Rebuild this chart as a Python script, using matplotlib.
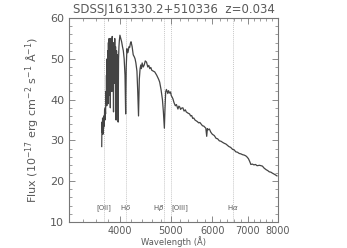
import matplotlib
matplotlib.use("Agg")
import matplotlib.pyplot as plt
from matplotlib.ticker import FixedLocator, FixedFormatter, MultipleLocator, NullFormatter

# rest-frame spectrum
wave = [3693, 3697, 3702, 3707, 3712, 3717, 3722, 3727, 3733, 3740,
        3746, 3750, 3756, 3762, 3767, 3771, 3776, 3781, 3786, 3791,
        3798, 3803, 3809, 3815, 3821, 3828, 3835, 3841, 3848, 3855,
        3861, 3867, 3873, 3880, 3889, 3896, 3903, 3910, 3917, 3924,
        3934, 3941, 3948, 3955, 3961, 3969, 3976, 3983, 3990, 4000,
        4015, 4030, 4045, 4060, 4075, 4090, 4102, 4112, 4125, 4138,
        4150, 4163, 4175, 4188, 4200, 4220, 4240, 4260, 4275, 4290,
        4310, 4325, 4340, 4355, 4370, 4383, 4395, 4410, 4430, 4450,
        4470, 4495, 4520, 4540, 4560, 4580, 4600, 4630, 4660, 4700,
        4740, 4762, 4790, 4820, 4840, 4861, 4875, 4889, 4905, 4920,
        4935, 4950, 4975, 4995, 5010, 5030, 5047, 5070, 5100, 5125,
        5159, 5180, 5200, 5220, 5240, 5272, 5300, 5330, 5350, 5390,
        5429, 5455, 5480, 5505, 5530, 5560, 5589, 5620, 5650, 5680,
        5712, 5745, 5780, 5810, 5830, 5853, 5870, 5890, 5922, 5960,
        6000, 6050, 6100, 6140, 6186, 6230, 6280, 6320, 6370, 6410,
        6450, 6500, 6556, 6600, 6650, 6700, 6750, 6800, 6850, 6900,
        6950, 6990, 7030, 7070, 7104, 7150, 7200, 7250, 7300, 7380,
        7473, 7530, 7600, 7650, 7700, 7760, 7800, 7850, 7900, 7965]
flux = [28.5, 34.5, 32.0, 35.5, 31.5, 35.0, 33.0, 36.0, 33.5, 37.5,
        35.0, 38.0, 36.5, 42.0, 39.0, 46.0, 38.5, 50.0, 40.0, 52.0,
        39.0, 54.0, 41.0, 55.0, 43.0, 53.5, 38.0, 55.0, 44.0, 54.5,
        42.0, 55.5, 45.0, 53.0, 37.0, 54.0, 44.0, 55.0, 46.0, 53.0,
        35.0, 52.0, 45.0, 51.0, 47.0, 34.5, 50.0, 53.0, 54.5, 55.8,
        55.0, 54.2, 53.0, 52.0, 50.0, 46.0, 36.5, 48.0, 52.5, 51.5,
        52.0, 53.0, 52.8, 53.8, 54.2, 53.0, 51.0, 50.5, 50.0, 49.0,
        47.0, 42.0, 36.0, 45.0, 47.6, 48.5, 47.6, 49.0, 48.0, 48.5,
        49.5, 49.2, 48.0, 48.4, 47.6, 47.9, 47.2, 47.0, 46.8, 46.0,
        45.0, 44.3, 42.5, 40.0, 37.0, 33.0, 38.0, 41.9, 42.5, 42.0,
        41.5, 42.2, 41.6, 41.9, 41.0, 40.6, 40.2, 39.3, 38.5, 38.8,
        37.7, 38.4, 38.2, 37.6, 37.9, 38.0, 37.2, 37.5, 37.0, 36.7,
        36.5, 36.0, 36.1, 35.4, 35.5, 35.0, 34.8, 34.6, 34.3, 34.4,
        34.0, 33.6, 33.5, 33.2, 33.0, 31.0, 32.9, 32.6, 32.8, 32.0,
        31.5, 31.2, 30.5, 30.4, 29.9, 29.8, 29.5, 29.3, 29.1, 28.8,
        28.5, 28.3, 27.8, 27.7, 27.2, 27.1, 26.8, 26.7, 26.5, 26.4,
        26.2, 25.9, 25.5, 24.8, 24.1, 24.2, 24.0, 24.1, 23.8, 23.9,
        23.7, 23.2, 22.8, 22.6, 22.3, 22.2, 22.0, 21.8, 21.6, 21.3]

line_names = ["[OII]", "H$\\delta$", "H$\\beta$", "[OIII]", "H$\\alpha$"]
line_waves = [3727, 4102, 4861, 5007, 6563]
line_align = ["center", "center", "right", "left", "center"]

xticks = [4000, 5000, 6000, 7000, 8000]
yticks = [10, 20, 30, 40, 50, 60]

txt = "#5a5a5a"

fig = plt.figure(figsize=(3.47, 2.48), dpi=100)
ax = fig.add_axes([0.199, 0.105, 0.602, 0.822])

for w, name, ha in zip(line_waves, line_names, line_align):
    ax.axvline(w, color="#c8c8c8", lw=0.7, ls=(0, (1, 1)), zorder=1)
    ax.text(w, 13.5, name, ha=ha, va="center", fontsize=5, color=txt)

ax.plot(wave, flux, color="#444444", lw=0.9, zorder=2)

ax.set_xscale("log")
ax.set_xlim(3200, 8000)
ax.set_ylim(10, 60)
ax.xaxis.set_major_locator(FixedLocator(xticks))
ax.xaxis.set_major_formatter(FixedFormatter([str(t) for t in xticks]))
ax.xaxis.set_minor_locator(MultipleLocator(200))
ax.xaxis.set_minor_formatter(NullFormatter())
ax.yaxis.set_major_locator(FixedLocator(yticks))
ax.yaxis.set_minor_locator(MultipleLocator(2))

ax.tick_params(which="both", direction="in", top=True, right=True,
               colors="#777777", labelcolor=txt, labelsize=8)
ax.tick_params(which="major", length=4, width=0.6)
ax.tick_params(which="minor", length=2, width=0.5)
ax.tick_params(axis="x", labelsize=7, pad=3)
for s in ax.spines.values():
    s.set_color("#777777")
    s.set_linewidth(0.8)

ax.set_xlabel("Wavelength (Å)", fontsize=6, color=txt, labelpad=0)
ax.set_ylabel("Flux (10$^{-17}$ erg cm$^{-2}$ s$^{-1}$ Å$^{-1}$)",
              fontsize=8, color=txt, labelpad=6)
ax.set_title("SDSSJ161330.2+510336  z=0.034", fontsize=8.5, color=txt, pad=4)

fig.savefig("out.png", dpi=100)
